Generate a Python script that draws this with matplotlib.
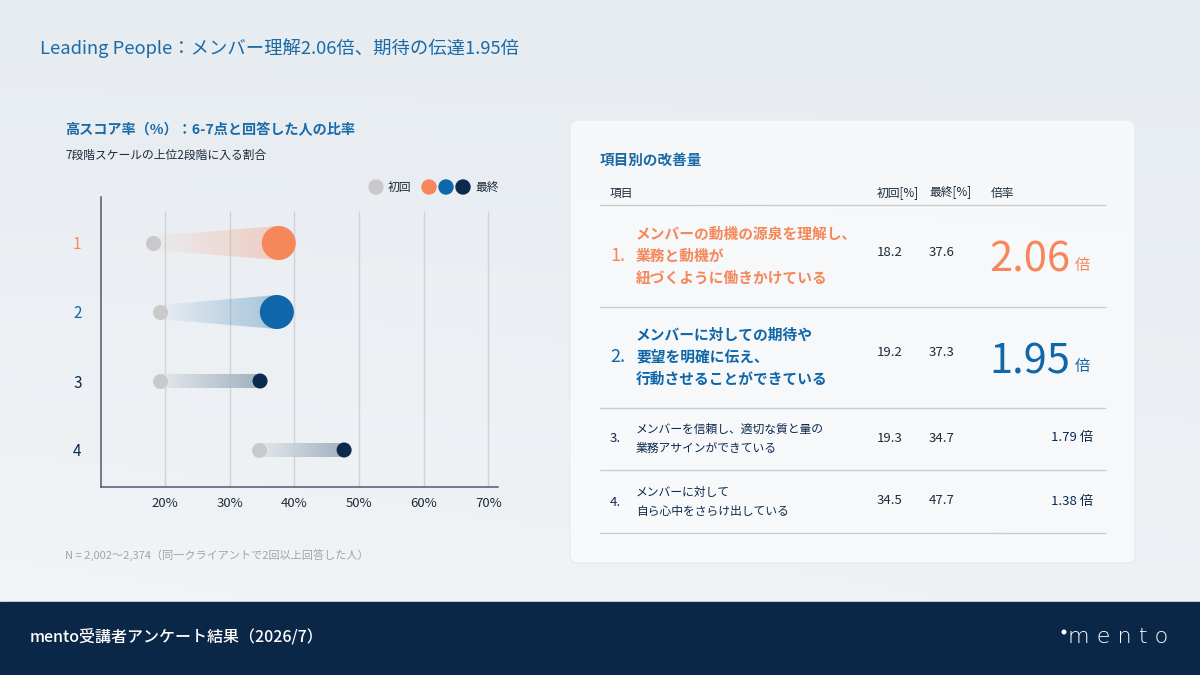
import numpy as np
import matplotlib
matplotlib.use("Agg")
import matplotlib.pyplot as plt
from matplotlib.patches import Polygon, FancyBboxPatch, Rectangle, Circle

plt.rcParams['font.family'] = ['Noto Sans CJK JP', 'DejaVu Sans']

# data
rows = ["1", "2", "3", "4"]
first = [18.2, 19.2, 19.3, 34.5]
final = [37.6, 37.3, 34.7, 47.7]
ratio = ["2.06", "1.95", "1.79", "1.38"]
items = ["メンバーの動機の源泉を理解し、\n業務と動機が\n紐づくように働きかけている",
         "メンバーに対しての期待や\n要望を明確に伝え、\n行動させることができている",
         "メンバーを信頼し、適切な質と量の\n業務アサインができている",
         "メンバーに対して\n自ら心中をさらけ出している"]
x_ticks = [20, 30, 40, 50, 60, 70]

ORANGE = '#f5875a'
BLUE = '#0f66a8'
NAVY = '#0c2a4e'
GRAY = '#c9c9c9'
TITLE = '#1a6aa8'
row_colors = [ORANGE, BLUE, NAVY, NAVY]

fig = plt.figure(figsize=(12, 6.75), dpi=100)

# background in pixel coordinates
bg = fig.add_axes([0, 0, 1, 1])
bg.set_xlim(0, 1200)
bg.set_ylim(675, 0)
bg.axis('off')
yy, xx = np.mgrid[0:1:68j, 0:1:120j]
t = np.clip(0.55 * yy + 0.25 * (1 - xx) * yy, 0, 1)
top = np.array([0.905, 0.925, 0.945])
bot = np.array([0.965, 0.968, 0.972])
img = top[None, None, :] * (1 - t[..., None]) + bot[None, None, :] * t[..., None]
bg.imshow(img, extent=[0, 1200, 675, 0], aspect='auto', zorder=0, interpolation='bilinear')

# footer
bg.add_patch(Rectangle((0, 602), 1200, 73, color='#0b2748', zorder=1))
bg.text(30, 637, "mento受講者アンケート結果（2026/7）", color='white', fontsize=11.5,
        fontweight='medium', va='center', ha='left', zorder=2)
bg.add_patch(Circle((1064, 632), 1.8, color='white', zorder=2))
bg.text(1068, 637, "m e n t o", color='white', fontsize=16, fontweight='light',
        va='center', ha='left', zorder=2, family=['DejaVu Sans'])

# titles
bg.text(40, 48, "Leading People：メンバー理解2.06倍、期待の伝達1.95倍", color=TITLE,
        fontsize=13.2, va='center', ha='left', zorder=2)
bg.text(65, 130, "高スコア率（%）：6-7点と回答した人の比率", color=TITLE, fontsize=10.2,
        fontweight='bold', va='center', ha='left', zorder=2)
bg.text(65, 155, "7段階スケールの上位2段階に入る割合", color='#1d2b3c', fontsize=8.5,
        va='center', ha='left', zorder=2)
bg.text(65, 555, "N = 2,002〜2,374（同一クライアントで2回以上回答した人）", color='#9ea4ac',
        fontsize=8, va='center', ha='left', zorder=2)

# legend
bg.add_patch(Circle((376, 187), 7, color=GRAY, zorder=2))
bg.text(388, 187, "初回", fontsize=8.5, color='#1d2b3c', va='center', zorder=2)
for cx, c in zip([429, 446, 463], [ORANGE, BLUE, NAVY]):
    bg.add_patch(Circle((cx, 187), 7, color=c, zorder=2))
bg.text(475, 187, "最終", fontsize=8.5, color='#1d2b3c', va='center', zorder=2)

# table panel
bg.add_patch(FancyBboxPatch((570, 120), 565, 443, boxstyle="round,pad=0,rounding_size=8",
                            facecolor='white', alpha=0.6, edgecolor='#e2e6ea', lw=1, zorder=1))
bg.text(600, 160, "項目別の改善量", color=TITLE, fontsize=10.5, fontweight='bold',
        va='center', zorder=2)
hdr_c = '#1d2b3c'
bg.text(610, 193, "項目", fontsize=8.5, color=hdr_c, va='center', zorder=2)
bg.text(877, 193, "初回[%]", fontsize=8.5, color=hdr_c, va='center', zorder=2)
bg.text(929, 193, "最終[%]", fontsize=8.5, color=hdr_c, va='center', zorder=2)
bg.text(991, 193, "倍率", fontsize=8.5, color=hdr_c, va='center', zorder=2)
for ly in [205, 307, 408, 470, 533]:
    bg.plot([600, 1105], [ly, ly], color='#c9cdd2', lw=1, zorder=2)

row_y = [256, 357, 439, 502]
num_y = [252, 352, 438, 501]
for i in range(4):
    c = row_colors[i]
    if i < 2:
        bg.text(610, row_y[i], rows[i] + ".", fontsize=13, color=c, va='center', zorder=2)
        bg.text(636, row_y[i], items[i], fontsize=10.6, fontweight='bold', color=c,
                va='center', linespacing=1.45, zorder=2)
        base = [272, 373][i]
        bg.text(1070, base, ratio[i], fontsize=30, color=c, ha='right', va='baseline', zorder=2)
        bg.text(1075, base - 2, "倍", fontsize=11, color=c, ha='left', va='baseline', zorder=2)
    else:
        bg.text(610, row_y[i], rows[i] + ".", fontsize=9.5, color=c, va='center', zorder=2)
        bg.text(636, row_y[i], items[i], fontsize=8.5, color=c, va='center',
                linespacing=1.55, zorder=2)
        bg.text(1093, num_y[i], ratio[i] + " 倍", fontsize=9.5, color=c, ha='right',
                va='center', zorder=2)
    bg.text(877, num_y[i], f"{first[i]:.1f}", fontsize=9.5, color=hdr_c, va='center', zorder=2)
    bg.text(929, num_y[i], f"{final[i]:.1f}", fontsize=9.5, color=hdr_c, va='center', zorder=2)

# dumbbell chart
ax = fig.add_axes([101 / 1200, (675 - 487) / 675, 397 / 1200, 290 / 675])
ax.set_zorder(3)
ax.patch.set_visible(False)
ypos = np.arange(1, 5)
px = 1 / 69.0  # data units per pixel (vertical)

ax.vlines(x_ticks, 4 + 37 * px, 1 - 32 * px, color='#cfd3d8', lw=1, zorder=1)

for i in range(4):
    x0, x1, y = first[i], final[i], ypos[i]
    if i < 2:
        h0, h1 = 7 * px, 17 * px
        base = np.array(matplotlib.colors.to_rgb(row_colors[i]))
        grad = np.zeros((1, 256, 4))
        grad[..., :3] = base
        grad[..., 3] = np.linspace(0.02, 0.32, 256)
    else:
        h0 = h1 = 7.5 * px
        c0 = np.array([0.89, 0.905, 0.92])
        c1 = np.array([0.58, 0.65, 0.72])
        s = np.linspace(0, 1, 256)[:, None]
        grad = np.zeros((1, 256, 4))
        grad[0, :, :3] = c0 * (1 - s) + c1 * s
        grad[..., 3] = 0.85
    poly = Polygon([(x0, y - h0), (x1, y - h1), (x1, y + h1), (x0, y + h0)],
                   closed=True, facecolor='none', edgecolor='none')
    ax.add_patch(poly)
    im = ax.imshow(grad, extent=[x0, x1, y + h1, y - h1], aspect='auto',
                   interpolation='bilinear', zorder=2)
    im.set_clip_path(poly)

ax.scatter(first, ypos, s=117, color=GRAY, zorder=3, linewidths=0)
sizes = [600, 600, 117, 117]
ax.scatter(final, ypos, s=sizes, color=row_colors, zorder=4, linewidths=0)

ax.set_xlim(10.1, 71.5)
ax.set_ylim(4 + 37 * px, 1 - 46 * px)
ax.set_xticks(x_ticks)
ax.set_xticklabels([f"{v}%" for v in x_ticks], fontsize=9.5, color='#1d2b3c')
ax.set_yticks(ypos)
ax.set_yticklabels(rows, fontsize=11)
for lab, c in zip(ax.get_yticklabels(), row_colors):
    lab.set_color(c)
ax.tick_params(axis='both', length=0)
ax.tick_params(axis='x', pad=7)
ax.tick_params(axis='y', pad=14)
for sp in ['top', 'right']:
    ax.spines[sp].set_visible(False)
for sp in ['left', 'bottom']:
    ax.spines[sp].set_color('#4b5a6e')
    ax.spines[sp].set_linewidth(1.1)

fig.savefig("out.png", dpi=100)
